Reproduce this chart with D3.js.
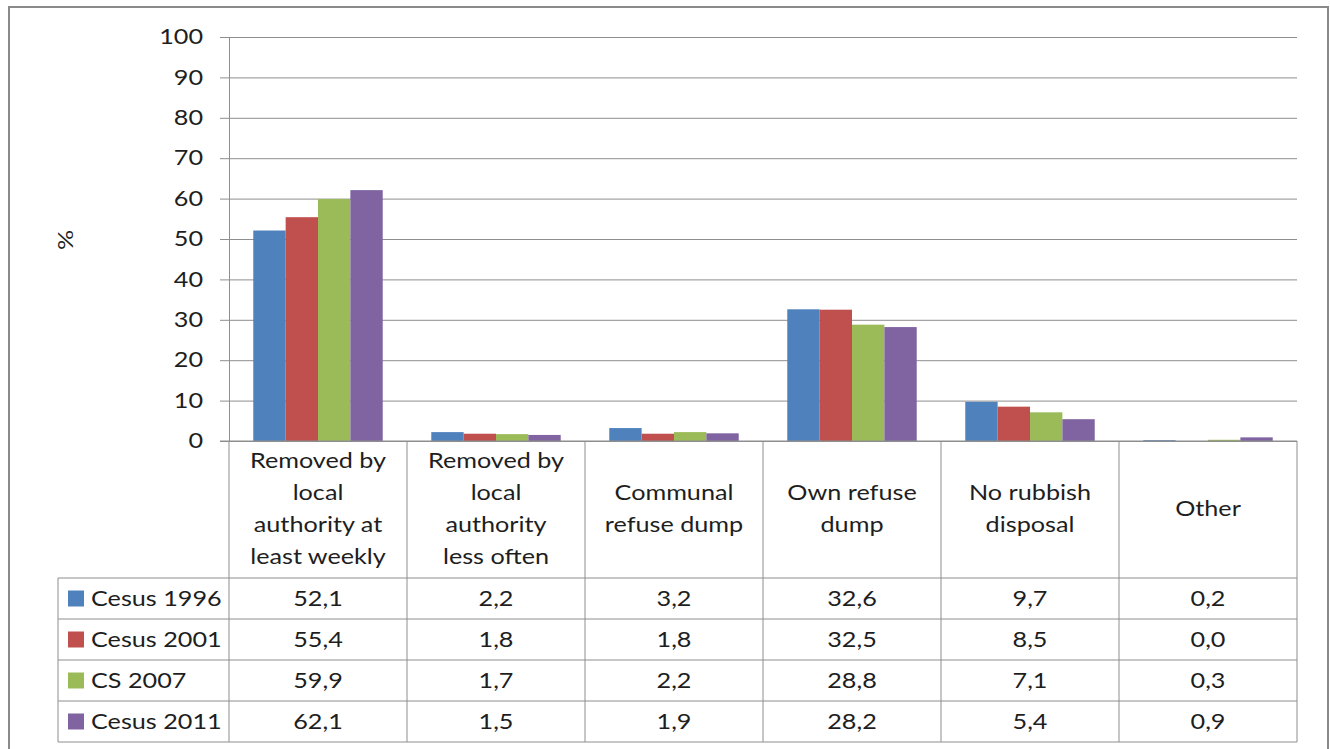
<!DOCTYPE html>
<html>
<head>
<meta charset="utf-8">
<script src="https://cdn.jsdelivr.net/npm/d3@7"></script>
<style>
  html, body { margin: 0; padding: 0; background: #fff; }
  svg { display: block; }
  text { font-family: Lato, "Open Sans", sans-serif; fill: #1e1e1e; }
</style>
</head>
<body>
<svg id="chart" width="1330" height="749"></svg>
<script>
// Refuse removal by household, % of households
const categories = [
  ["Removed by", "local", "authority at", "least weekly"],
  ["Removed by", "local", "authority", "less often"],
  ["Communal", "refuse dump"],
  ["Own refuse", "dump"],
  ["No rubbish", "disposal"],
  ["Other"]
];
const seriesNames = ["Cesus 1996", "Cesus 2001", "CS 2007", "Cesus 2011"];
const census1996 = [52.1, 2.2, 3.2, 32.6, 9.7, 0.2];
const census2001 = [55.4, 1.8, 1.8, 32.5, 8.5, 0.0];
const cs2007     = [59.9, 1.7, 2.2, 28.8, 7.1, 0.3];
const census2011 = [62.1, 1.5, 1.9, 28.2, 5.4, 0.9];
const yTicks = [0, 10, 20, 30, 40, 50, 60, 70, 80, 90, 100];

const seriesValues = [census1996, census2001, cs2007, census2011];
const colors = ["#4F81BD", "#C0504D", "#9BBB59", "#8064A2"];
const lineColor = "#8e8e8e";
const fontSize = 21;
const sx = 1.2; // horizontal widening of the label face

const svg = d3.select("#chart");

// Text helper: wide-set label anchored at (x, y)
function label(parent, x, y, lines, anchor, lineH) {
  const g = parent.append("g").attr("transform", `translate(${x},${y}) scale(${sx},1)`);
  const t = g.append("text")
    .attr("text-anchor", anchor)
    .attr("font-size", fontSize);
  const start = -(lines.length - 1) * (lineH || 0) / 2;
  lines.forEach((ln, k) => {
    t.append("tspan")
      .attr("x", 0)
      .attr("y", start + k * (lineH || 0))
      .attr("dy", "0.35em")
      .text(ln);
  });
  return g;
}

// Outer chart frame
svg.append("rect")
  .attr("x", 9).attr("y", 7)
  .attr("width", 1319).attr("height", 760)
  .attr("fill", "none").attr("stroke", "#8a8a8a").attr("stroke-width", 2);

const plot = { left: 229, right: 1297, top: 37, bottom: 441 };
const plotW = plot.right - plot.left;

const x = d3.scaleBand()
  .domain(d3.range(categories.length))
  .range([plot.left, plot.right])
  .paddingInner(0).paddingOuter(0);

const barW = x.bandwidth() / 5.5;
const xs = d3.scaleBand()
  .domain(d3.range(seriesNames.length))
  .range([barW * 0.75, x.bandwidth() - barW * 0.75])
  .padding(0);

const y = d3.scaleLinear().domain([0, 100]).range([plot.bottom, plot.top]);

// Horizontal gridlines
const grid = svg.append("g")
  .attr("transform", `translate(${plot.left},0)`)
  .call(d3.axisLeft(y).tickValues(yTicks).tickSize(-plotW).tickFormat(""));
grid.select(".domain").remove();
grid.selectAll(".tick line").attr("stroke", lineColor).attr("stroke-width", 1);

// Value axis with outside tick marks
const yAxis = svg.append("g")
  .attr("transform", `translate(${plot.left},0)`)
  .call(d3.axisLeft(y).tickValues(yTicks).tickSize(9).tickPadding(17).tickSizeOuter(0));
yAxis.select(".domain").attr("stroke", lineColor);
yAxis.selectAll(".tick line").attr("stroke", lineColor);
yAxis.selectAll(".tick text")
  .attr("font-size", fontSize).attr("fill", "#1e1e1e")
  .attr("x", -26 / sx)
  .attr("transform", `scale(${sx},1)`)
  .style("font-family", "Lato, 'Open Sans', sans-serif");

// Axis title
svg.append("g")
  .attr("transform", "translate(66,240) rotate(-90)")
  .call(g => label(g, 0, 0, ["%"], "middle"));

// Bars
seriesValues.forEach((vals, si) => {
  svg.append("g").selectAll("rect")
    .data(vals)
    .join("rect")
    .attr("x", (d, i) => x(i) + xs(si))
    .attr("width", xs.bandwidth())
    .attr("y", d => y(d))
    .attr("height", d => y(0) - y(d))
    .attr("fill", colors[si]);
});

// Data table
const headerBottom = 578;
const rowH = 41;
const tableBottom = headerBottom + rowH * seriesNames.length;
const tableLeft = 58;
const tbl = svg.append("g")
  .attr("stroke", lineColor).attr("stroke-width", 1).attr("fill", "none");

// Category axis line / table top
tbl.append("line")
  .attr("x1", plot.left - 9).attr("x2", plot.right)
  .attr("y1", plot.bottom).attr("y2", plot.bottom);
// Left axis line continues down through the table
tbl.append("line")
  .attr("x1", plot.left).attr("x2", plot.left)
  .attr("y1", plot.bottom).attr("y2", tableBottom);
// Column separators
d3.range(1, categories.length + 1).forEach(i => {
  const cx = i < categories.length ? x(i) : plot.right;
  tbl.append("line")
    .attr("x1", cx).attr("x2", cx)
    .attr("y1", plot.bottom).attr("y2", tableBottom);
});
// Row separators
d3.range(seriesNames.length + 1).forEach(r => {
  const ry = headerBottom + r * rowH;
  tbl.append("line")
    .attr("x1", tableLeft).attr("x2", plot.right)
    .attr("y1", ry).attr("y2", ry);
});
tbl.append("line")
  .attr("x1", tableLeft).attr("x2", tableLeft)
  .attr("y1", headerBottom).attr("y2", tableBottom);

// Category headers
const headerMid = (plot.bottom + headerBottom) / 2 - 1;
categories.forEach((lines, i) => {
  label(svg, x(i) + x.bandwidth() / 2, headerMid, lines, "middle", 32);
});

// Legend keys and values
const fmt = v => v.toFixed(1).replace(".", ",");
seriesNames.forEach((name, si) => {
  const cy = headerBottom + si * rowH + rowH / 2;
  svg.append("rect")
    .attr("x", 68).attr("y", cy - 8)
    .attr("width", 16).attr("height", 16)
    .attr("fill", colors[si]);
  label(svg, 91, cy, [name], "start");
  seriesValues[si].forEach((v, i) => {
    label(svg, x(i) + x.bandwidth() / 2, cy, [fmt(v)], "middle");
  });
});
</script>
</body>
</html>
